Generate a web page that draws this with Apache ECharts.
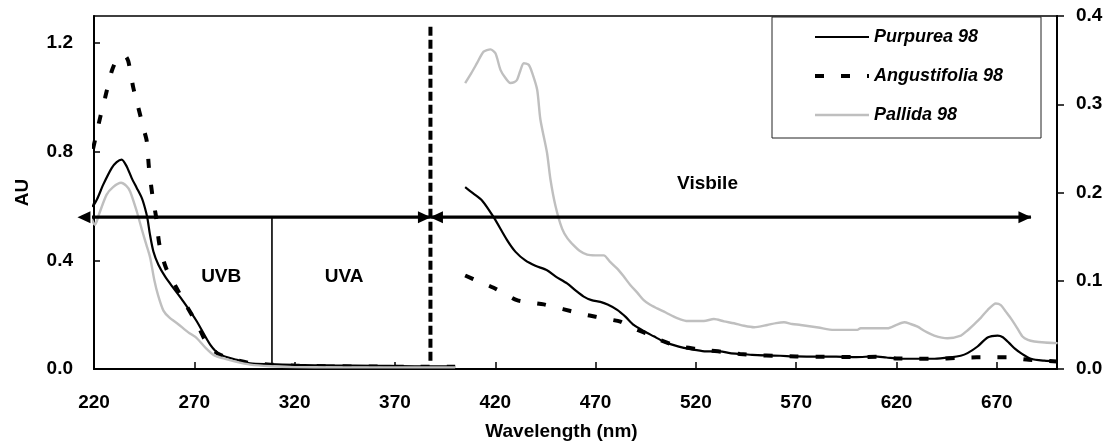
<!DOCTYPE html>
<html>
<head>
<meta charset="utf-8">
<script src="https://cdn.jsdelivr.net/npm/echarts@6/dist/echarts.min.js"></script>
<style>
  html, body { margin: 0; padding: 0; background: #fff; }
  #chart { width: 1106px; height: 446px; }
</style>
</head>
<body>
<div id="chart"></div>
<script>
// UV part (left axis, AU)
const purpureaUV = [[215, 0.685], [217, 0.645], [219.4, 0.6], [221.5, 0.625], [224.6, 0.679], [228.8, 0.74], [231.3, 0.762], [233.8, 0.771], [236.3, 0.746], [238.8, 0.703], [241.3, 0.667], [243.8, 0.63], [245.4, 0.593], [246.6, 0.556], [247.9, 0.495], [249.6, 0.433], [252.1, 0.384], [255.4, 0.341], [259.6, 0.298], [264.5, 0.249], [271.2, 0.176], [277.9, 0.09], [282.9, 0.053], [291.2, 0.034], [297.8, 0.021], [307.8, 0.018], [320, 0.015], [340, 0.013], [360, 0.012], [380, 0.01], [400, 0.01]]
const angustifoliaUV = [[219.5, 0.81], [223, 0.924], [225.5, 0.998], [228.8, 1.096], [231.3, 1.139], [233.5, 1.15], [235.5, 1.152], [237.1, 1.133], [239.6, 1.035], [241.3, 0.986], [244.6, 0.888], [246.3, 0.839], [247.4, 0.74], [249.3, 0.63], [250.9, 0.562], [252.6, 0.458], [255.9, 0.372], [261.2, 0.298], [266.2, 0.231], [271.2, 0.169], [276.2, 0.096], [282, 0.055], [290, 0.035], [298, 0.022], [308, 0.016], [320, 0.012], [340, 0.01], [360, 0.009], [380, 0.008], [400, 0.008]]
const pallidaUV = [[215, 0.655], [217, 0.6], [219, 0.55], [220.5, 0.531], [222.5, 0.57], [226.3, 0.642], [229.5, 0.67], [233.5, 0.686], [236, 0.675], [238, 0.654], [241.3, 0.581], [244, 0.51], [246, 0.46], [248, 0.41], [250, 0.33], [252, 0.27], [254.6, 0.215], [257.5, 0.19], [262, 0.165], [267, 0.135], [271.2, 0.114], [276, 0.075], [280, 0.05], [285, 0.038], [290, 0.028], [297.8, 0.016], [307.8, 0.01], [320, 0.007], [340, 0.006], [360, 0.006], [380, 0.006], [400, 0.006]]

// visible part (right axis)
const purpureaVis = [[405, 0.206], [409, 0.199], [413.4, 0.191], [419.2, 0.172], [425.9, 0.146], [430, 0.133], [435, 0.123], [440, 0.117], [445.8, 0.112], [450, 0.105], [455.8, 0.097], [460, 0.089], [464.1, 0.082], [468, 0.078], [472.4, 0.076], [476, 0.073], [480.8, 0.067], [485, 0.059], [489, 0.05], [494, 0.043], [499, 0.037], [504, 0.031], [509, 0.027], [514, 0.024], [519, 0.022], [525, 0.02], [532, 0.02], [537, 0.018], [542, 0.017], [548, 0.016], [555, 0.0154], [562, 0.015], [570, 0.0143], [580, 0.014], [590, 0.014], [600, 0.0135], [609, 0.0143], [615, 0.013], [622, 0.0116], [630, 0.0116], [639, 0.0116], [647, 0.0132], [652, 0.015], [655.4, 0.018], [660.4, 0.0255], [665.4, 0.0357], [670.4, 0.0379], [673, 0.036], [676.2, 0.0293], [679, 0.023], [682, 0.018], [687, 0.0116], [693.6, 0.0094], [700, 0.0086]]
const angustifoliaVis = [[405, 0.106], [412, 0.099], [419.2, 0.092], [425, 0.085], [430.8, 0.078], [437, 0.0755], [444.2, 0.0732], [450, 0.07], [457.5, 0.0657], [464, 0.062], [470, 0.0593], [476, 0.0565], [482.4, 0.0536], [488, 0.047], [494.9, 0.0405], [501, 0.034], [507.4, 0.0285], [513, 0.025], [519.9, 0.0229], [527, 0.021], [535, 0.019], [542, 0.017], [550, 0.0155], [560, 0.015], [570, 0.0143], [580, 0.014], [590, 0.0138], [600, 0.0135], [610, 0.0138], [620, 0.012], [630, 0.0116], [640, 0.0116], [650, 0.0125], [660, 0.0132], [668, 0.0132], [675, 0.0132], [680, 0.012], [686, 0.0105], [693, 0.0094], [700, 0.0086]]
const pallidaVis = [[405, 0.324], [408, 0.335], [410.9, 0.3465], [414.2, 0.3596], [417.6, 0.3622], [420.1, 0.3577], [422.6, 0.339], [425, 0.33], [427.5, 0.324], [429.5, 0.325], [430.9, 0.3277], [432.5, 0.338], [434.2, 0.3465], [436.7, 0.3446], [438.5, 0.335], [440.9, 0.3164], [442.5, 0.2827], [445.8, 0.245], [447.5, 0.215], [450, 0.185], [453.3, 0.159], [456, 0.148], [459.1, 0.14], [462, 0.134], [465.8, 0.1295], [470, 0.1287], [474.1, 0.1287], [477, 0.122], [480.8, 0.1137], [484, 0.105], [487.4, 0.0949], [491, 0.086], [494, 0.078], [497, 0.073], [500.7, 0.0687], [505, 0.064], [509, 0.0593], [512, 0.0565], [515.7, 0.0544], [520, 0.0544], [524, 0.0544], [529, 0.0566], [534, 0.054], [539, 0.0518], [544, 0.049], [549, 0.0473], [555.6, 0.0499], [560, 0.052], [563.9, 0.0529], [568, 0.051], [572.2, 0.0499], [581, 0.047], [588.8, 0.0443], [600.5, 0.0443], [602.1, 0.0462], [615.5, 0.0462], [620, 0.05], [623.9, 0.0529], [627, 0.051], [630.5, 0.048], [634, 0.043], [638.8, 0.0379], [645.4, 0.0349], [652.1, 0.0379], [655, 0.043], [658.7, 0.0507], [662, 0.058], [665.4, 0.0668], [669.5, 0.0743], [672, 0.0724], [674.5, 0.065], [677, 0.0574], [680, 0.047], [682.8, 0.0368], [685.5, 0.033], [688.7, 0.0312], [694, 0.03], [700.3, 0.0293]]

const seriesNames = ['Purpurea 98', 'Angustifolia 98', 'Pallida 98']

// annotations (wavelength, AU)
const arrowLevel = 0.559
const uvArrow = [212, 387.7]
const visArrow = [387.7, 687]
const dividerUV = [387.7, 1.26, 0.03]   // x, top, bottom
const dividerUVB = [308.7, 0.559, 0.022]
const bandLabels = ['UVB', 'UVA', 'Visbile']
const bandLabelX = [283.4, 344.7, 525.8]
const bandLabelY = [0.338, 0.338, 0.684]

const FONT = '"Liberation Sans", Arial, Helvetica, sans-serif'
const GRAY = '#bfbfbf'
const RIGHT_HEAD = 'path://M0,0 L12,6 L0,12 Z'
const LEFT_HEAD = 'path://M12,0 L0,6 L12,12 Z'

const lineBase = (name, data, yIdx, style) => ({
  name: name,
  type: 'line',
  data: data,
  xAxisIndex: 0,
  yAxisIndex: yIdx,
  showSymbol: false,
  symbol: 'none',
  smooth: 0.25,
  clip: false,
  lineStyle: style,
  itemStyle: { color: style.color },
  emphasis: { disabled: true },
  z: 3
})

const solidStyle = { color: '#000', width: 2.2 }
const dashStyle = { color: '#000', width: 4, type: [9, 17], cap: 'butt' }
const grayStyle = { color: GRAY, width: 2.4 }

const arrowSeries = (range) => ({
  type: 'line',
  xAxisIndex: 0,
  yAxisIndex: 0,
  clip: false,
  silent: true,
  symbolSize: [13, 12],
  lineStyle: { color: '#000', width: 3.2 },
  itemStyle: { color: '#000' },
  data: [
    { value: [range[0], arrowLevel], symbol: LEFT_HEAD, symbolOffset: [6, 0] },
    { value: [range[1], arrowLevel], symbol: RIGHT_HEAD, symbolOffset: [-6, 0] }
  ],
  z: 4
})

const option = {
  animation: false,
  backgroundColor: '#fff',
  grid: {
    left: 94, right: 49, top: 16, bottom: 75,
    show: true, borderColor: '#000', borderWidth: 1.5
  },
  legend: {
    data: seriesNames,
    orient: 'vertical',
    left: 772,
    top: 17,
    padding: [10, 38, 13, 41],
    itemWidth: 54,
    itemHeight: 14,
    itemGap: 19,
    backgroundColor: '#fff',
    borderColor: '#222',
    borderWidth: 1,
    borderRadius: 0,
    itemStyle: { opacity: 0 },
    lineStyle: { width: 'inherit' },
    textStyle: { fontFamily: FONT, fontSize: 18, fontWeight: 'bold', fontStyle: 'italic', color: '#000', lineHeight: 20 }
  },
  xAxis: {
    type: 'value',
    min: 220,
    max: 700,
    interval: 50,
    name: 'Wavelength (nm)',
    nameLocation: 'middle',
    nameGap: 53,
    nameTextStyle: { fontFamily: FONT, fontSize: 19, fontWeight: 'bold', color: '#000', padding: [0, 28, 0, 0] },
    axisLine: { lineStyle: { color: '#000', width: 2 } },
    axisTick: { inside: true, length: 7, lineStyle: { color: '#000', width: 1.5 } },
    axisLabel: { fontFamily: FONT, fontSize: 19, fontWeight: 'bold', color: '#000', margin: 24, showMaxLabel: false },
    splitLine: { show: false }
  },
  yAxis: [{
    type: 'value',
    min: 0,
    max: 1.3,
    interval: 0.4,
    name: 'AU',
    nameLocation: 'middle',
    nameGap: 62,
    nameTextStyle: { fontFamily: FONT, fontSize: 19, fontWeight: 'bold', color: '#000' },
    axisLine: { show: true, lineStyle: { color: '#000', width: 2 } },
    axisTick: { show: true, inside: true, length: 6, lineStyle: { color: '#000', width: 1.5 } },
    axisLabel: { fontFamily: FONT, fontSize: 19, fontWeight: 'bold', color: '#000', margin: 21, showMaxLabel: false, formatter: v => v.toFixed(1) },
    splitLine: { show: false }
  }, {
    type: 'value',
    position: 'right',
    min: 0,
    max: 0.4,
    interval: 0.1,
    axisLine: { show: true, lineStyle: { color: '#000', width: 2 } },
    axisTick: { show: true, inside: false, length: 7, lineStyle: { color: '#000', width: 1.5 } },
    axisLabel: { fontFamily: FONT, fontSize: 19, fontWeight: 'bold', color: '#000', margin: 19, formatter: v => v.toFixed(1) },
    splitLine: { show: false }
  }],
  series: [
    lineBase(seriesNames[0], purpureaUV, 0, solidStyle),
    lineBase(seriesNames[1], angustifoliaUV, 0, dashStyle),
    lineBase(seriesNames[2], pallidaUV, 0, grayStyle),
    lineBase(seriesNames[0], purpureaVis, 1, solidStyle),
    lineBase(seriesNames[1], angustifoliaVis, 1, dashStyle),
    lineBase(seriesNames[2], pallidaVis, 1, grayStyle),
    arrowSeries(uvArrow),
    arrowSeries(visArrow),
    {
      type: 'line',
      silent: true,
      symbol: 'none',
      clip: false,
      lineStyle: { color: '#000', width: 4, type: [9, 4], cap: 'butt' },
      data: [[dividerUV[0], dividerUV[1]], [dividerUV[0], dividerUV[2]]],
      z: 4
    },
    {
      type: 'line',
      silent: true,
      symbol: 'none',
      lineStyle: { color: '#000', width: 1.6 },
      data: [[dividerUVB[0], dividerUVB[1]], [dividerUVB[0], dividerUVB[2]]],
      z: 4
    },
    {
      type: 'scatter',
      silent: true,
      symbolSize: 1,
      itemStyle: { color: '#fff' },
      label: {
        show: true,
        position: 'inside',
        formatter: p => bandLabels[p.dataIndex],
        fontFamily: FONT, fontSize: 19, fontWeight: 'bold', color: '#000',
        textBorderWidth: 0, opacity: 1
      },
      data: bandLabelX.map((x, i) => [x, bandLabelY[i]]),
      z: 5
    }
  ]
}

const chart = echarts.init(document.getElementById('chart'), null, { renderer: 'canvas' })
chart.setOption(option)
</script>
</body>
</html>
